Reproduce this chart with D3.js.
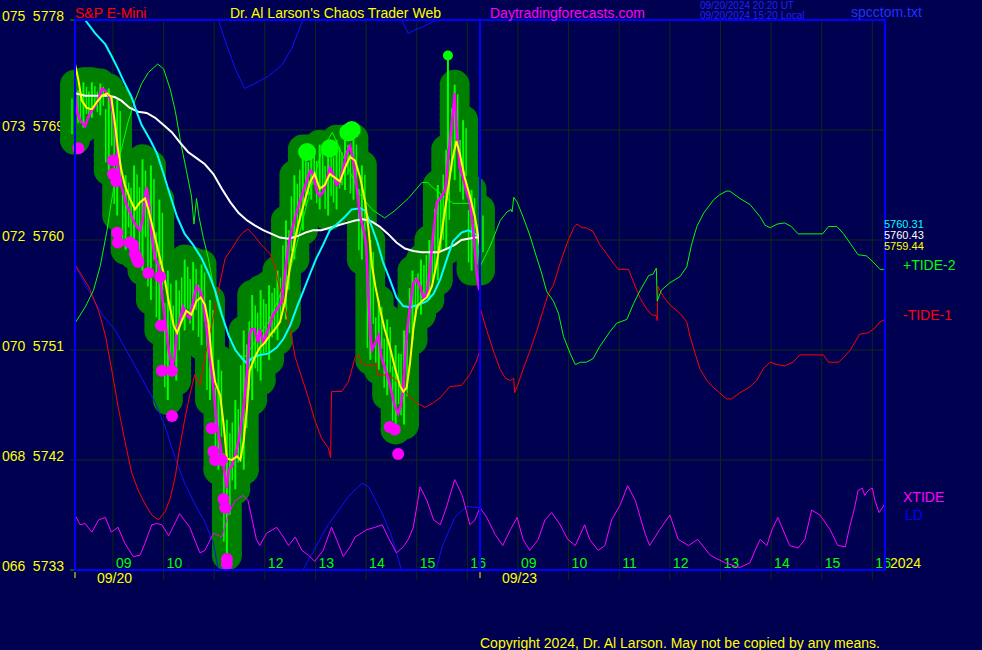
<!DOCTYPE html>
<html><head><meta charset="utf-8">
<script src="https://cdn.jsdelivr.net/npm/d3@7"></script>
<style>
body{margin:0;background:#000050;}
svg{display:block;}
text{font-family:"Liberation Sans",Arial,sans-serif;}
</style></head><body>
<svg id="c" width="982" height="650"></svg>
<script>
// ---------- axis / label data ----------
const priceTicks = [5733, 5742, 5751, 5760, 5769, 5778];
const priceCodes = ["066", "068", "070", "072", "073", "075"];
const hourLabels = ["09", "10", "11", "12", "13", "14", "15", "16"];
const dayLabels = ["09/20", "09/23"];
const yearLabel = "2024";
const lineLabels = ["+TIDE-2", "-TIDE-1", "XTIDE", "LD"];
const endValues = ["5760.31", "5760.43", "5759.44"];

// time = minutes from 08:15 on 09/20 (session 08:15-16:15); 480+ = 09/23
// ---------- price bars (10-minute steps, 09/20) ----------
const barHigh = [5772.7,5772.9,5772.9,5772.8,5772.4,5771.5,5765.3,5766.1,5766.6,5766.1,5763.3,5757.5,5756.7,5758.4,5758.2,5758.0,5755.1,5750.2,5745.3,5746.9,5752.6,5755.5,5755.9,5756.3,5757.5,5761.6,5765.3,5767.4,5767.4,5767.8,5767.4,5768.2,5768.2,5768.3,5766.1,5760.0,5755.1,5753.5,5751.4,5752.6,5757.5,5758.4,5760.0,5764.5,5767.4,5772.7,5769.8,5764.1,5762.5];
const barLow = [5768.2,5769.2,5770.0,5770.2,5765.7,5762.0,5759.2,5758.8,5757.5,5755.1,5752.6,5746.9,5748.5,5752.6,5752.6,5751.4,5746.9,5741.2,5734.2,5739.6,5741.2,5746.9,5748.5,5750.2,5751.8,5753.5,5758.4,5760.8,5763.3,5762.5,5762.0,5762.5,5764.1,5763.3,5758.4,5750.2,5749.4,5747.3,5744.5,5744.9,5751.8,5753.9,5755.1,5756.7,5759.2,5764.9,5763.3,5757.5,5757.5];

const closeLine = [[0,5772.1],[2,5770.6],[6,5769.8],[12,5769.3],[16,5770.1],[20,5770.6],[26,5771.2],[32,5772.4],[36,5772.2],[41,5771.7],[45,5770.4],[49,5768.2],[51,5766.1],[53,5764.9],[57,5763.9],[61,5762.9],[65,5762.3],[69,5761.6],[73,5761.1],[77,5760.8],[81,5761.9],[83,5763.7],[85,5764.3],[88,5762.8],[91,5760.2],[95,5758.5],[99,5757.9],[102,5756.2],[104,5755.0],[107,5753.3],[111,5751.0],[115,5749.6],[118,5750.4],[121,5752.7],[124,5753.3],[128,5754.5],[132,5753.9],[136,5753.6],[140,5755.0],[144,5756.2],[148,5755.9],[152,5755.0],[156,5752.7],[160,5750.4],[164,5747.9],[168,5745.0],[172,5743.3],[176,5741.5],[180,5739.7],[182,5741.2],[186,5741.5],[190,5742.4],[194,5743.6],[200,5746.4],[204,5749.3],[207,5752.2],[209,5752.7],[213,5752.7],[217,5751.6],[219,5752.7],[223,5751.6],[229,5752.7],[235,5753.9],[241,5754.5],[245,5755.0],[249,5757.3],[253,5759.6],[257,5760.8],[261,5761.9],[265,5762.8],[273,5764.5],[279,5765.7],[282,5765.4],[287,5763.9],[290,5763.6],[294,5763.9],[298,5764.8],[302,5765.9],[306,5765.4],[310,5764.5],[314,5764.8],[318,5765.9],[322,5767.1],[326,5767.7],[330,5766.5],[334,5764.2],[338,5761.9],[342,5760.8],[345,5759.6],[348,5755.0],[350,5752.2],[352,5751.0],[356,5751.6],[360,5752.2],[363,5750.4],[367,5749.6],[371,5748.7],[375,5747.6],[379,5746.4],[383,5745.8],[386,5746.4],[389,5747.9],[393,5752.2],[397,5754.5],[401,5756.5],[405,5756.8],[409,5756.2],[413,5755.3],[417,5755.6],[421,5757.9],[425,5760.8],[429,5763.1],[435,5763.6],[439,5764.2],[442,5766.5],[447,5769.9],[450,5772.0],[452,5769.4],[456,5765.9],[460,5765.1],[464,5763.9],[468,5763.1],[472,5760.8],[476,5757.3],[479,5755.9]];

const fastAvg = [[0,5774.4],[4,5773.1],[8,5771.4],[14,5770.8],[20,5770.7],[26,5771.3],[32,5771.8],[38,5772.0],[43,5771.7],[47,5769.7],[51,5767.4],[55,5765.7],[59,5764.5],[65,5763.4],[71,5762.5],[77,5763.1],[83,5763.4],[87,5762.5],[93,5760.8],[99,5759.0],[105,5757.3],[111,5755.0],[117,5753.0],[121,5752.4],[126,5753.3],[132,5754.2],[138,5753.9],[144,5755.0],[149,5755.3],[154,5754.7],[158,5753.3],[162,5750.4],[166,5748.4],[172,5747.3],[176,5745.0],[180,5742.1],[186,5742.0],[192,5742.3],[196,5742.0],[200,5743.6],[204,5746.4],[207,5749.3],[213,5750.4],[219,5751.2],[225,5751.6],[231,5752.2],[237,5752.7],[243,5753.3],[249,5755.0],[255,5757.9],[261,5760.2],[267,5761.9],[273,5763.4],[279,5764.8],[284,5765.4],[290,5764.2],[296,5764.5],[302,5765.4],[308,5765.1],[314,5764.8],[320,5765.9],[326,5766.8],[332,5766.5],[338,5765.1],[344,5763.1],[348,5760.8],[352,5757.9],[356,5756.2],[361,5754.5],[367,5752.7],[373,5751.3],[379,5749.6],[385,5748.1],[389,5747.6],[393,5747.9],[397,5749.9],[401,5752.7],[405,5754.5],[411,5755.0],[417,5755.3],[423,5756.2],[429,5758.2],[435,5760.8],[441,5763.6],[447,5766.5],[452,5768.1],[456,5767.1],[462,5765.1],[468,5763.6],[474,5761.9],[480,5759.4]];

const midAvg = [[0,5779.0],[12,5778.0],[24,5776.9],[36,5776.0],[43,5775.1],[51,5774.0],[59,5772.8],[67,5771.7],[73,5770.5],[79,5769.4],[89,5768.2],[97,5767.1],[105,5765.4],[113,5763.6],[121,5761.9],[130,5760.5],[140,5759.6],[150,5758.5],[158,5757.3],[166,5755.9],[174,5753.9],[182,5752.2],[190,5751.0],[198,5750.3],[204,5749.9],[209,5750.3],[219,5750.6],[229,5750.7],[239,5751.2],[247,5751.9],[255,5753.0],[263,5754.5],[271,5755.9],[279,5757.3],[286,5758.5],[294,5759.6],[302,5760.8],[312,5761.4],[320,5761.9],[328,5762.5],[338,5762.6],[344,5762.4],[350,5761.4],[358,5759.9],[365,5758.2],[373,5756.8],[381,5755.3],[389,5754.6],[397,5754.5],[407,5754.7],[417,5755.0],[425,5755.6],[433,5756.8],[441,5758.5],[448,5759.9],[458,5760.6],[466,5760.8],[474,5760.5],[480,5760.3]];

const slowAvg = [[0,5772.0],[12,5771.8],[24,5771.8],[39,5771.8],[47,5771.7],[55,5771.4],[65,5770.8],[75,5770.5],[85,5770.4],[95,5770.0],[105,5769.4],[115,5768.8],[124,5768.0],[134,5767.2],[144,5766.7],[154,5766.2],[164,5765.4],[174,5764.2],[184,5763.1],[194,5762.2],[204,5761.6],[213,5761.2],[223,5760.8],[233,5760.5],[243,5760.2],[253,5760.1],[263,5760.3],[273,5760.6],[282,5760.8],[292,5760.8],[302,5761.0],[312,5761.2],[322,5761.4],[332,5761.6],[342,5761.7],[352,5761.5],[361,5761.1],[371,5760.5],[381,5759.8],[391,5759.3],[401,5759.1],[411,5759.0],[421,5759.0],[431,5759.0],[441,5759.3],[450,5759.6],[458,5760.0],[466,5760.1],[474,5760.2],[480,5760.2]];

const pivotDots = [[4,5767.5],[45,5766.5],[45,5765.4],[49,5764.8],[50,5760.6],[51,5759.8],[65,5759.8],[69,5759.6],[71,5758.9],[73,5758.5],[75,5758.2],[87,5757.3],[101,5757.0],[102,5753.0],[103,5749.3],[115,5749.3],[115,5745.6],[162,5744.6],[164,5742.7],[166,5742.0],[174,5742.0],[176,5738.8],[178,5738.1],[180,5733.9],[180,5733.5],[373,5744.7],[379,5744.5],[383,5742.5]];
const highMarks = [[275,5767.2],[302,5767.5],[324,5768.8],[328,5769.0]];
const spikeHigh = [[442,5775.1]];

// ---------- cycle / tide lines (both days) ----------
const tide2 = [[0,5753.2],[12,5754.5],[22,5755.9],[30,5757.9],[38,5760.8],[43,5763.1],[49,5765.4],[55,5767.4],[63,5769.7],[71,5771.4],[79,5772.8],[87,5773.7],[98,5774.4],[105,5774.0],[113,5772.3],[119,5770.5],[126,5767.7],[132,5765.7],[138,5763.6],[141,5761.3],[144,5763.4],[147,5761.9],[152,5760.2],[158,5758.5],[164,5756.2],[170,5754.5],[178,5753.0],[186,5751.6],[194,5750.6],[201,5750.4],[231,5753.5],[255,5757.5],[279,5764.1],[293,5767.4],[305,5768.8],[320,5766.5],[338,5763.7],[352,5762.5],[367,5761.8],[379,5762.4],[395,5763.4],[411,5764.7],[418,5764.7],[424,5764.3],[448,5763.0],[468,5763.0],[474,5762.0],[480,5757.8],[492,5759.5],[504,5761.6],[512,5762.3],[517,5762.5],[518,5762.3],[520,5763.5],[524,5763.1],[531,5761.9],[539,5760.4],[547,5758.6],[553,5757.3],[559,5755.8],[567,5755.0],[573,5754.0],[579,5752.1],[587,5750.7],[593,5749.8],[599,5750.0],[606,5750.0],[614,5750.3],[622,5751.3],[634,5752.5],[642,5753.2],[654,5753.5],[662,5754.8],[670,5755.9],[680,5757.1],[685,5757.2],[689,5757.7],[690,5755.0],[695,5755.9],[705,5756.5],[717,5757.0],[725,5757.8],[731,5759.7],[737,5761.1],[745,5762.2],[757,5763.3],[764,5763.7],[772,5764.0],[776,5764.0],[788,5763.4],[800,5762.9],[812,5761.9],[818,5761.2],[824,5761.0],[832,5761.3],[841,5761.4],[849,5761.1],[857,5760.5],[886,5760.5],[893,5761.1],[903,5761.1],[911,5760.5],[919,5759.7],[928,5758.8],[938,5758.7],[946,5758.2],[954,5757.6],[960,5757.6]];

const tide1 = [[0,5758.0],[16,5756.2],[28,5754.2],[36,5752.2],[43,5749.6],[51,5746.4],[59,5743.6],[67,5741.0],[75,5739.5],[83,5738.4],[91,5737.5],[99,5737.1],[107,5737.8],[113,5738.9],[119,5740.7],[124,5743.0],[130,5745.3],[136,5747.3],[142,5749.0],[148,5748.1],[154,5750.4],[162,5753.0],[170,5755.9],[178,5758.5],[186,5759.3],[194,5760.2],[199,5760.6],[205,5760.9],[213,5760.3],[221,5759.6],[231,5758.9],[237,5757.9],[241,5756.5],[247,5755.0],[255,5752.7],[261,5750.4],[269,5748.7],[277,5747.0],[284,5745.3],[292,5743.8],[300,5743.0],[303,5742.2],[304,5747.6],[316,5747.6],[324,5748.4],[332,5750.4],[336,5750.6],[340,5749.9],[350,5749.7],[358,5749.9],[359,5748.9],[371,5749.0],[379,5748.6],[389,5747.9],[397,5747.1],[407,5746.6],[415,5746.3],[425,5746.7],[433,5747.1],[444,5748.0],[458,5748.1],[468,5749.0],[476,5750.1],[479,5750.8],[480,5754.5],[488,5752.6],[496,5750.9],[504,5749.4],[510,5748.7],[516,5748.5],[520,5748.7],[521,5747.5],[524,5748.0],[531,5749.4],[539,5750.9],[547,5752.5],[555,5754.3],[561,5755.6],[567,5756.3],[575,5758.1],[583,5759.7],[591,5761.0],[595,5761.3],[601,5761.0],[606,5761.0],[614,5760.7],[622,5759.6],[630,5758.9],[638,5758.1],[644,5757.6],[656,5757.6],[664,5756.2],[670,5755.2],[678,5754.3],[683,5753.9],[689,5753.8],[690,5753.4],[691,5756.2],[697,5755.4],[705,5754.7],[717,5754.0],[725,5753.3],[729,5752.1],[735,5750.7],[741,5749.4],[749,5748.5],[757,5747.9],[764,5747.5],[772,5747.0],[778,5747.0],[788,5747.5],[800,5748.0],[808,5748.5],[816,5749.5],[824,5750.0],[832,5749.8],[841,5749.7],[851,5750.0],[859,5750.6],[887,5750.6],[893,5750.0],[905,5750.0],[911,5750.4],[919,5751.0],[930,5752.3],[940,5752.4],[948,5752.8],[954,5753.3],[960,5753.5]];

const xtide = [[0,5737.5],[6,5736.7],[12,5736.8],[20,5736.1],[28,5737.1],[36,5737.3],[43,5736.1],[51,5736.5],[59,5735.2],[69,5734.1],[77,5734.2],[83,5735.2],[91,5736.7],[97,5736.8],[103,5736.7],[111,5735.8],[119,5736.9],[124,5737.6],[136,5736.5],[148,5734.4],[154,5734.6],[164,5736.0],[174,5735.7],[182,5737.6],[190,5738.7],[199,5739.1],[205,5738.7],[215,5735.5],[219,5735.0],[227,5736.0],[239,5736.5],[247,5735.7],[253,5735.0],[261,5735.7],[269,5734.6],[277,5734.2],[284,5733.7],[294,5734.6],[304,5736.5],[310,5735.5],[318,5734.1],[326,5734.9],[332,5735.7],[346,5736.3],[356,5736.5],[364,5736.7],[371,5735.7],[381,5734.4],[389,5734.9],[395,5735.5],[401,5736.5],[409,5739.8],[417,5738.7],[425,5737.1],[433,5736.7],[441,5738.3],[450,5740.4],[459,5739.1],[468,5736.7],[474,5737.1],[480,5738.1],[488,5737.3],[498,5735.9],[507,5735.0],[516,5736.3],[524,5737.3],[531,5735.5],[539,5734.6],[549,5735.5],[557,5737.1],[565,5737.7],[575,5736.7],[584,5735.5],[593,5735.0],[604,5736.7],[610,5735.5],[620,5734.6],[628,5735.0],[636,5737.1],[646,5738.3],[655,5739.9],[664,5738.7],[676,5735.9],[681,5735.0],[693,5736.3],[705,5737.5],[715,5735.5],[727,5735.0],[738,5735.5],[753,5734.2],[770,5733.6],[788,5733.2],[800,5733.6],[806,5734.6],[812,5735.5],[820,5735.0],[826,5736.3],[833,5737.3],[847,5735.0],[857,5734.8],[865,5735.5],[873,5737.9],[883,5737.5],[895,5736.3],[904,5735.0],[913,5734.9],[918,5736.5],[924,5738.1],[928,5739.5],[933,5739.7],[936,5739.1],[940,5739.5],[945,5739.7],[948,5738.7],[953,5737.7],[958,5738.2],[960,5738.5]];

// LD values; the chart wraps values below 5733 to the top of the window
const ldLine = [[0,5757.9],[16,5755.9],[32,5753.9],[47,5752.7],[63,5750.7],[79,5748.7],[95,5746.7],[107,5744.7],[119,5742.1],[130,5740.1],[142,5738.4],[154,5736.9],[164,5735.2],[170,5733.0],[178,5731.3],[190,5729.0],[201,5727.4],[213,5727.8],[229,5728.4],[245,5729.3],[257,5730.7],[270,5733.0],[300,5736.7],[324,5739.0],[340,5740.1],[348,5739.8],[363,5737.8],[375,5735.8],[387,5733.0],[395,5731.9],[403,5732.2],[411,5732.4],[428,5733.0],[435,5734.9],[450,5737.3],[464,5738.2],[480,5738.1]];

// ---------- drawing ----------
const W = 982, H = 650;
const svg = d3.select("#c");
const xs = d3.scaleLinear().domain([0, 960]).range([75, 885]);
const ys = d3.scaleLinear().domain([5733, 5778]).range([570, 20]);
const span = 5778 - 5733;
const barTimes = d3.range(0, 481, 10);

svg.append("rect").attr("width", W).attr("height", H).attr("fill", "#000050");
svg.append("defs").append("clipPath").attr("id", "plot")
  .append("rect").attr("x", 75).attr("y", 20).attr("width", 810).attr("height", 550);

const gridCol = "#0c2a14";
svg.append("g").selectAll("line").data(priceTicks).join("line")
  .attr("x1", 70).attr("x2", d => (d === 5733 || d === 5778) ? 75 : 885)
  .attr("y1", d => ys(d)).attr("y2", d => ys(d))
  .attr("stroke", d => (d === 5733 || d === 5778) ? "#00a000" : gridCol).attr("stroke-width", 1);
const hourTimes = [];
[0, 480].forEach(off => hourLabels.forEach((h, i) => hourTimes.push({t: off + 45 + 60 * i, h})));
svg.append("g").selectAll("line").data(hourTimes).join("line")
  .attr("x1", d => xs(d.t)).attr("x2", d => xs(d.t)).attr("y1", 20).attr("y2", 580)
  .attr("stroke", gridCol).attr("stroke-width", 1);
svg.append("g").selectAll("text").data(hourTimes).join("text")
  .attr("x", d => xs(d.t) + 3).attr("y", 568).attr("fill", "#00ff00")
  .attr("font-size", 14).text(d => d.h);

const la = svg.append("g");
priceTicks.forEach((p, i) => {
  la.append("text").attr("x", 2).attr("y", ys(p) + 1).attr("fill", "#ffff00").attr("font-size", 14).text(priceCodes[i]);
  la.append("text").attr("x", 64).attr("y", ys(p) + 1).attr("text-anchor", "end").attr("fill", "#ffff00").attr("font-size", 14).text(p);
});

// price blobs
const blobs = svg.append("g");
function blobColumn(cx, p1, p2, r) {
  const y1 = ys(p1), y2 = ys(p2);
  for (let yy = y1; yy < y2; yy += 6) blobs.append("circle").attr("cx", cx).attr("cy", yy).attr("r", r).attr("fill", "#008000");
  blobs.append("circle").attr("cx", cx).attr("cy", y2).attr("r", r).attr("fill", "#008000");
}
barTimes.forEach((t, i) => {
  blobColumn(xs(t), barHigh[i], barLow[i], 15);
  if (i < barTimes.length - 1) {
    const top = Math.min(barHigh[i], barHigh[i + 1]), bot = Math.max(barLow[i], barLow[i + 1]);
    if (top > bot) blobColumn((xs(t) + xs(barTimes[i + 1])) / 2, top, bot, 15);
  }
});
blobs.selectAll(".hm").data(highMarks).join("circle").attr("class", "hm")
  .attr("cx", d => xs(d[0])).attr("cy", d => ys(d[1])).attr("r", 9).attr("fill", "#00ff00");
const limeG = blobs.append("g").attr("stroke", "#00ff00");
barTimes.forEach((t, i) => {
  const y1 = ys(barHigh[i]), y2 = ys(barLow[i]), h = y2 - y1;
  limeG.append("line").attr("x1", xs(t)).attr("x2", xs(t)).attr("y1", y1).attr("y2", y2).attr("stroke-width", 2);
  limeG.append("line").attr("x1", xs(t) - 3).attr("x2", xs(t) - 3).attr("y1", y1 + h * 0.25).attr("y2", y2 - h * 0.1).attr("stroke-width", 1.5);
  limeG.append("line").attr("x1", xs(t) + 3).attr("x2", xs(t) + 3).attr("y1", y1 + h * 0.1).attr("y2", y2 - h * 0.3).attr("stroke-width", 1.5);
});
spikeHigh.forEach(d => {
  const i = Math.round(d[0] / 10);
  blobs.append("line").attr("x1", xs(d[0])).attr("x2", xs(d[0])).attr("y1", ys(d[1])).attr("y2", ys(barHigh[i]))
    .attr("stroke", "#00ff00").attr("stroke-width", 2);
  blobs.append("circle").attr("cx", xs(d[0])).attr("cy", ys(d[1])).attr("r", 5).attr("fill", "#00ff00");
});

const line = d3.line().x(d => xs(d[0])).y(d => ys(d[1]));
const plot = svg.append("g").attr("clip-path", "url(#plot)");
plot.append("path").attr("d", line(ldLine)).attr("fill", "none").attr("stroke", "#1010ff").attr("stroke-width", 1);
plot.append("path").attr("d", line(ldLine.map(d => [d[0], d[1] + span]))).attr("fill", "none").attr("stroke", "#1010ff").attr("stroke-width", 1);
plot.append("path").attr("d", line(xtide)).attr("fill", "none").attr("stroke", "#ff00ff").attr("stroke-width", 1);
plot.append("path").attr("d", line(tide1)).attr("fill", "none").attr("stroke", "#ff0000").attr("stroke-width", 1);
plot.append("path").attr("d", line(tide2)).attr("fill", "none").attr("stroke", "#00ff00").attr("stroke-width", 1);
plot.append("path").attr("d", line(slowAvg)).attr("fill", "none").attr("stroke", "#ffffff").attr("stroke-width", 2);
plot.append("path").attr("d", line(midAvg)).attr("fill", "none").attr("stroke", "#00ffff").attr("stroke-width", 2);
plot.append("path").attr("d", line(closeLine)).attr("fill", "none").attr("stroke", "#ff00ff").attr("stroke-width", 2.5);
plot.append("path").attr("d", line(fastAvg)).attr("fill", "none").attr("stroke", "#ffff00").attr("stroke-width", 2);
svg.append("g").selectAll("circle").data(pivotDots).join("circle")
  .attr("cx", d => xs(d[0])).attr("cy", d => ys(d[1])).attr("r", 6).attr("fill", "#ff00ff");

const bc = "#0000ff";
svg.append("rect").attr("x", 75).attr("y", 20).attr("width", 810).attr("height", 550)
  .attr("fill", "none").attr("stroke", bc).attr("stroke-width", 2);
svg.append("line").attr("x1", xs(480)).attr("x2", xs(480)).attr("y1", 20).attr("y2", 570).attr("stroke", bc).attr("stroke-width", 2);

[0, 480].forEach((t, i) => {
  svg.append("line").attr("x1", xs(t)).attr("x2", xs(t)).attr("y1", 572).attr("y2", 578).attr("stroke", "#ffff00").attr("stroke-width", 1);
  svg.append("text").attr("x", xs(t) + 22).attr("y", 583).attr("fill", "#ffff00").attr("font-size", 14).text(dayLabels[i]);
});
svg.append("text").attr("x", 890).attr("y", 568).attr("fill", "#ffff00").attr("font-size", 14).text(yearLabel);

const ev = [["#00ffff", 228], ["#ffffff", 239], ["#ffff00", 250]];
endValues.forEach((v, i) => svg.append("text").attr("x", 884).attr("y", ev[i][1]).attr("fill", ev[i][0]).attr("font-size", 11).text(v));
const ll = [["#00ff00", 903, 270], ["#ff0000", 903, 320], ["#ff00ff", 903, 502], ["#0000ff", 905, 520]];
lineLabels.forEach((v, i) => svg.append("text").attr("x", ll[i][1]).attr("y", ll[i][2]).attr("fill", ll[i][0]).attr("font-size", 14).text(v));

svg.append("text").attr("x", 75).attr("y", 18).attr("fill", "#ff0000").attr("font-size", 14).text("S&P E-Mini");
svg.append("text").attr("x", 230).attr("y", 18).attr("fill", "#ffff00").attr("font-size", 14).text("Dr. Al Larson's Chaos Trader Web");
svg.append("text").attr("x", 490).attr("y", 18).attr("fill", "#ff00ff").attr("font-size", 14).text("Daytradingforecasts.com");
svg.append("text").attr("x", 700).attr("y", 9).attr("fill", "#2020ff").attr("font-size", 10).text("09/20/2024 20:20  UT");
svg.append("text").attr("x", 700).attr("y", 19).attr("fill", "#2020ff").attr("font-size", 10).text("09/20/2024 15:20  Local");
svg.append("text").attr("x", 851).attr("y", 17).attr("fill", "#2030ff").attr("font-size", 14).text("spcctom.txt");
svg.append("text").attr("x", 480).attr("y", 648).attr("fill", "#ffff00").attr("font-size", 14).text("Copyright 2024, Dr. Al Larson. May not be copied by any means.");
</script>
</body></html>
